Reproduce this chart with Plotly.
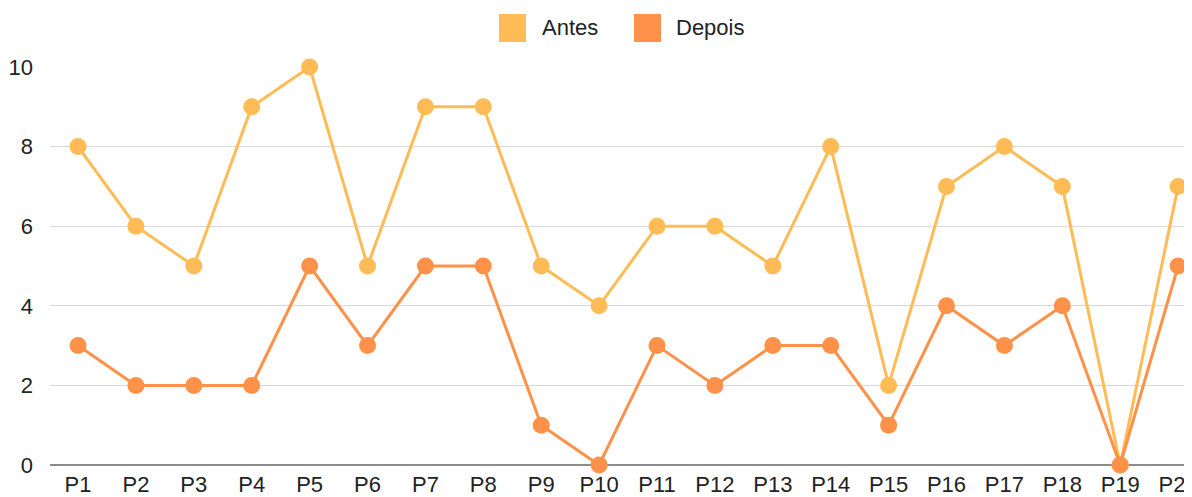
import plotly.graph_objects as go

categories = [f"P{i}" for i in range(1, 21)]
antes = [8, 6, 5, 9, 10, 5, 9, 9, 5, 4, 6, 6, 5, 8, 2, 7, 8, 7, 0, 7]
depois = [3, 2, 2, 2, 5, 3, 5, 5, 1, 0, 3, 2, 3, 3, 1, 4, 3, 4, 0, 5]
series_names = ["Antes", "Depois"]
colors = ["#FFBB55", "#FF9148"]

FONT = "Liberation Sans, Arial, sans-serif"

fig = go.Figure()
for name, vals, col in zip(series_names, [antes, depois], colors):
    fig.add_trace(go.Scatter(
        x=categories, y=vals, mode="lines+markers", name=name,
        line=dict(color=col, width=3), marker=dict(color=col, size=17),
        cliponaxis=False, showlegend=False))

# manual legend (large square swatches)
W, H, L, T, B = 1184, 489, 42, 59, 32
pw, ph = W - L, H - T - B
def px(x):
    return (x - L) / pw
def py(y):
    return (H - B - y) / ph

legend_pos = [(491, 532), (626, 666)]
for (sx, tx), name, col in zip(legend_pos, series_names, colors):
    fig.add_shape(type="rect", xref="paper", yref="paper",
                  x0=px(sx), x1=px(sx + 27), y0=py(6), y1=py(34),
                  fillcolor=col, line=dict(width=0))
    fig.add_annotation(text=name, xref="paper", yref="paper", x=px(tx), y=py(20),
                       xanchor="left", yanchor="middle", showarrow=False,
                       font=dict(family=FONT, size=22, color="#222"))

fig.update_layout(
    width=W, height=H,
    margin=dict(l=L, r=0, t=T, b=B),
    paper_bgcolor="white", plot_bgcolor="white",
    font=dict(family=FONT, size=22, color="#222"),
    showlegend=False,
    xaxis=dict(type="category", range=[-0.484, 19.24], showgrid=False,
               ticks="", tickfont=dict(size=22), automargin=False, ticklabelstandoff=4),
    yaxis=dict(range=[0, 10], dtick=2, showgrid=True, gridcolor="#D9D9D9", gridwidth=1,
               zeroline=True, zerolinecolor="#8C8C8C", zerolinewidth=1.5,
               ticks="", tickfont=dict(size=22), automargin=False, ticklabelstandoff=16),
)
fig.write_html("out.html")
